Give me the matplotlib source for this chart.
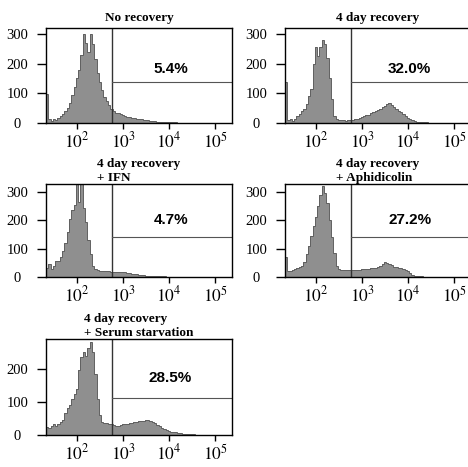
import numpy as np
import matplotlib
matplotlib.use("Agg")
import matplotlib.pyplot as plt
from matplotlib.ticker import LogLocator, FixedLocator, NullFormatter

plt.rcParams['font.family'] = ['Liberation Serif', 'DejaVu Serif']
plt.rcParams['mathtext.fontset'] = 'stix'

# histogram bins: log10 start, bin width (decades)
LOG_START = 1.326
BIN_W = 0.05

titles = ["No recovery", "4 day recovery", "4 day recovery\n+ IFN",
          "4 day recovery\n+ Aphidicolin", "4 day recovery\n+ Serum starvation"]
percents = ["5.4%", "32.0%", "4.7%", "27.2%", "28.5%"]
gate_x = 575
gate_y = [137, 137, 142, 142, 113]
y_max = [320, 320, 328, 328, 290]
y_ticks = [[0, 100, 200, 300]] * 4 + [[0, 100, 200]]

no_recovery = [98, 12, 8, 15, 10, 18, 22, 30, 40, 52, 68, 95, 120, 150, 180, 230,
               300, 270, 240, 300, 265, 215, 170, 137, 110, 88, 75, 62, 48, 40,
               35, 33, 30, 26, 24, 21, 19, 18, 16, 14, 13, 12, 11, 10, 9, 8, 7,
               6, 5, 5, 4, 4, 3, 3, 2, 2, 2, 1, 1, 1, 1, 0, 1, 0, 0, 0, 0, 0,
               0, 0, 0, 0, 0, 0, 0, 0, 0, 0, 0, 0, 0]
day4 = [137, 10, 14, 8, 15, 22, 30, 40, 48, 65, 90, 115, 200, 255, 225, 255,
        280, 265, 220, 150, 80, 25, 12, 10, 9, 9, 8, 9, 9, 10, 12, 14, 17, 20,
        24, 26, 28, 33, 37, 40, 44, 48, 53, 58, 63, 66, 60, 55, 47, 40, 36, 30,
        22, 18, 13, 10, 7, 5, 4, 3, 2, 2, 1, 1, 0, 1, 0, 0, 0, 0, 0, 0, 0, 0,
        0, 0, 0, 0, 0, 0, 0]
day4_ifn = [30, 45, 28, 40, 55, 58, 70, 90, 120, 160, 205, 235, 255, 340, 265,
            340, 245, 195, 130, 80, 40, 27, 24, 22, 22, 21, 20, 20, 19, 19, 18,
            18, 17, 17, 16, 15, 14, 12, 10, 9, 8, 7, 6, 5, 5, 4, 4, 3, 3, 2, 2,
            2, 1, 1, 1, 1, 0, 1, 0, 0, 0, 0, 0, 0, 0, 0, 0, 0, 0, 0, 0, 0, 0, 0,
            0, 0, 0, 0, 0, 0, 0]
day4_aph = [72, 20, 22, 25, 27, 30, 34, 38, 52, 80, 110, 145, 180, 210, 250, 290,
            320, 295, 260, 200, 140, 85, 40, 28, 26, 25, 24, 24, 23, 24, 25, 24,
            26, 27, 28, 27, 29, 30, 32, 33, 35, 40, 46, 52, 50, 46, 42, 37, 35,
            32, 30, 27, 23, 20, 15, 8, 5, 3, 2, 2, 1, 1, 0, 1, 0, 0, 0, 0, 0, 0,
            0, 0, 0, 0, 0, 0, 0, 0, 0, 0, 0]
day4_serum = [25, 20, 28, 32, 27, 33, 38, 45, 65, 82, 90, 108, 125, 140, 195, 235,
              250, 238, 262, 280, 250, 185, 110, 60, 40, 36, 35, 33, 32, 30, 28,
              28, 30, 32, 33, 34, 35, 36, 38, 39, 41, 42, 43, 45, 44, 41, 38, 35,
              30, 26, 22, 19, 15, 12, 10, 9, 8, 6, 5, 4, 3, 3, 2, 2, 2, 1, 1, 0,
              1, 0, 0, 0, 0, 0, 0, 0, 0, 0, 0, 0, 0]
series = [no_recovery, day4, day4_ifn, day4_aph, day4_serum]

# axes rectangles in pixels (left, top, width, height) on a 468x467 canvas
W, H = 468, 467
boxes = [(46, 28, 186, 95), (285, 28, 186, 95),
         (46, 184, 186, 93), (285, 184, 186, 93),
         (46, 339, 186, 96)]
text_y = [0.57, 0.57, 0.61, 0.61, 0.59]

fig = plt.figure(figsize=(4.68, 4.67), dpi=100)

for k in range(5):
    l, t, w, h = boxes[k]
    ax = fig.add_axes([l / W, 1 - (t + h) / H, w / W, h / H])
    counts = np.array(series[k], dtype=float)
    edges = 10 ** (LOG_START + BIN_W * np.arange(len(counts) + 1))
    ax.stairs(counts, edges, fill=True, color='#8f8f8f', lw=0)
    ax.stairs(counts, edges, color='#606060', lw=0.7)

    ax.set_xscale('log')
    ax.set_xlim(10 ** 1.326, 10 ** 5.37)
    ax.set_ylim(0, y_max[k])

    ax.axvline(gate_x, color='#333333', lw=1.0)
    ax.plot([gate_x, 10 ** 5.37], [gate_y[k], gate_y[k]], color='#555555', lw=0.8)
    ax.text(0.67, text_y[k], percents[k], transform=ax.transAxes, ha='center',
            va='center', fontsize=11, fontweight='bold', family='Liberation Sans')

    ax.xaxis.set_major_locator(FixedLocator([1e2, 1e3, 1e4, 1e5]))
    ax.xaxis.set_minor_locator(LogLocator(base=10, subs=np.arange(2, 10)))
    ax.xaxis.set_minor_formatter(NullFormatter())
    ax.set_xticklabels([r'$10^2$', r'$10^3$', r'$10^4$', r'$10^5$'])
    ax.set_yticks(y_ticks[k])
    ax.tick_params(axis='x', which='major', length=4, width=1, labelsize=12.5, pad=2)
    ax.tick_params(axis='x', which='minor', length=2.5, width=0.8)
    ax.tick_params(axis='y', length=6.5, width=1, labelsize=10.5, pad=14)
    for lab in ax.get_yticklabels():
        lab.set_ha('center')
    for sp in ax.spines.values():
        sp.set_linewidth(1.0)

    ax.set_title(titles[k], fontsize=9.5, fontweight='bold', multialignment='left',
                 linespacing=1.25, pad=5 if '\n' not in titles[k] else 2)

fig.savefig('out.png', dpi=100)
